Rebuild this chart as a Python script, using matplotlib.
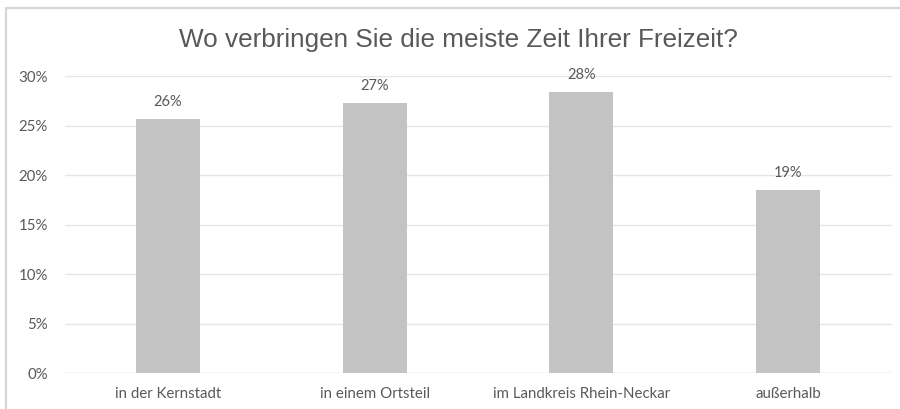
import matplotlib
matplotlib.use("Agg")
import matplotlib.pyplot as plt
from matplotlib.lines import Line2D
from matplotlib.ticker import FuncFormatter

categories = ["in der Kernstadt", "in einem Ortsteil", "im Landkreis Rhein-Neckar", "außerhalb"]
values = [25.7, 27.3, 28.4, 18.5]
labels = ["26%", "27%", "28%", "19%"]
title = "Wo verbringen Sie die meiste Zeit Ihrer Freizeit?"

fig = plt.figure(figsize=(9, 4.09), dpi=100)
fig.patch.set_facecolor("white")
# chart frame: only top and left edges visible in the reference (cropped screenshot)
fig.add_artist(Line2D([0.007, 0.007, 1.0], [0.0, 0.980, 0.980], transform=fig.transFigure,
                      color="#d6d6d6", linewidth=1.6))

ax = fig.add_axes([0.0717, 0.088, 0.9189, 0.726])
x = list(range(len(categories)))
ax.bar(x, values, width=0.31, color="#c3c3c3", zorder=3)
for xi, v, lab in zip(x, values, labels):
    ax.text(xi, v + 1.0, lab, ha="center", va="bottom", fontsize=10.5,
            color="#595959", family="Lato")

ax.set_xlim(-0.5, len(categories) - 0.5)
ax.set_ylim(0, 30)
ax.set_yticks([0, 5, 10, 15, 20, 25, 30])
ax.yaxis.set_major_formatter(FuncFormatter(lambda v, p: f"{int(v)}%"))
ax.set_xticks(x)
ax.set_xticklabels(categories)
ax.tick_params(axis="both", length=0, colors="#595959", labelsize=10.8)
ax.tick_params(axis="x", pad=10)
ax.tick_params(axis="y", pad=12)
for lab in ax.get_xticklabels() + ax.get_yticklabels():
    lab.set_family("Lato")
ax.grid(axis="y", color="#e6e6e6", linewidth=1, zorder=0)
for s in ax.spines.values():
    s.set_visible(False)
ax.axhline(0, color="#dcdcdc", linewidth=1, zorder=2)

fig.text(0.509, 0.902, title, ha="center", va="center", fontsize=18.8,
         color="#595959", family="Liberation Sans")

fig.savefig("out.png", dpi=100, facecolor="white")
